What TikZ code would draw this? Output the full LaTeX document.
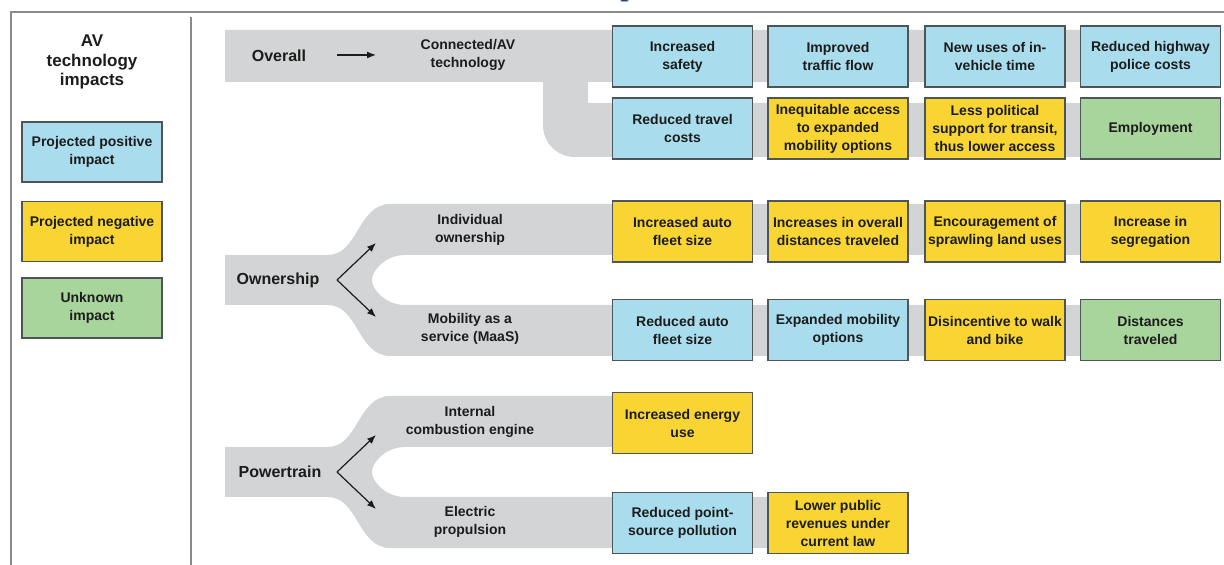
\documentclass[tikz,border=0pt]{standalone}
\usepackage{fontspec}
\setmainfont{Liberation Sans}
\newfontfamily\titleserif{Liberation Serif}
\usetikzlibrary{arrows.meta}
\definecolor{posblue}{HTML}{A9DCEC}
\definecolor{negyellow}{HTML}{F8D532}
\definecolor{unkgreen}{HTML}{A8D59C}
\definecolor{boxedge}{HTML}{4D5559}
\definecolor{bandgray}{HTML}{D3D4D5}
\definecolor{framegray}{HTML}{8A8A8A}
\definecolor{inkdark}{HTML}{1C1C1C}
\definecolor{titlenavy}{HTML}{1D3C7E}
\begin{document}
\begin{tikzpicture}[x=0.5pt,y=-0.5pt,
  impact/.style={draw=boxedge, line width=0.8pt, minimum width=70pt, minimum height=30.5pt,
    inner sep=1pt, align=center, text=inkdark, font=\fontsize{7}{9}\selectfont\bfseries},
  posbox/.style={impact, fill=posblue},
  negbox/.style={impact, fill=negyellow},
  unkbox/.style={impact, fill=unkgreen},
  band/.style={fill=bandgray, draw=none},
  cat/.style={font=\fontsize{8}{10}\selectfont\bfseries, text=inkdark},
  sub/.style={font=\fontsize{7}{9}\selectfont\bfseries, text=inkdark, align=center},
  pointer/.style={-{Latex[length=4.5pt,width=3.5pt]}, line width=0.6pt, draw=inkdark},
  frameline/.style={draw=framegray, line width=0.9pt}]
\useasboundingbox (0,0) rectangle (1224,565);

% cut-off title fragment
\node[anchor=base west, inner sep=0, text=titlenavy,
  font=\titleserif\fontsize{15}{15}\selectfont\bfseries] (ttl) at (620,-4) {p};

% frame lines
\draw[frameline] (10,12) -- (1224,12);
\draw[frameline] (11,12) -- (11,565);
\draw[frameline] (191,17) -- (191,565);

% legend
\node[align=center, text=inkdark, font=\fontsize{8.5}{9.8}\selectfont\bfseries] (legtitle) at (92,62) {AV\\technology\\impacts};
\node[posbox, minimum height=30pt] (legpos) at (92,152) {Projected positive\\impact};
\node[negbox, minimum height=30pt] (legneg) at (92,231.5) {Projected negative\\impact};
\node[unkbox, minimum height=30pt] (legunk) at (92,308) {Unknown\\impact};

% ---------- Overall bands ----------
\fill[band] (225,30) -- (1220,30) -- (1220,82) -- (588,82) -- (588,103) -- (1220,103)
  -- (1220,157) -- (575,157) .. controls (557,157) and (543,143) .. (543,125)
  -- (543,82) -- (225,82) -- cycle;

% ---------- Ownership fork (c = 280) ----------
\fill[band] (225,255) -- (328,255) .. controls (358,255) and (358,204) .. (390,204)
  -- (1220,204) -- (1220,255) -- (405,255) .. controls (386,255) and (372,270) .. (372,280)
  .. controls (372,290) and (386,305) .. (405,305) -- (1220,305) -- (1220,356)
  -- (390,356) .. controls (358,356) and (358,305) .. (328,305) -- (225,305) -- cycle;

% ---------- Powertrain fork (c = 472) ----------
\fill[band] (225,447) -- (328,447) .. controls (358,447) and (358,396) .. (390,396)
  -- (700,396) -- (700,447) -- (405,447) .. controls (386,447) and (372,462) .. (372,472)
  .. controls (372,482) and (386,497) .. (405,497) -- (850,497) -- (850,548)
  -- (390,548) .. controls (358,548) and (358,497) .. (328,497) -- (225,497) -- cycle;

% category labels
\node[cat] (overall) at (279,56) {Overall};
\node[cat] (ownership) at (278,280) {Ownership};
\node[cat] (powertrain) at (280,472) {Powertrain};

\node[sub] (cav) at (468,55) {Connected/AV\\technology};
\node[sub] (indiv) at (470,229.5) {Individual\\ownership};
\node[sub] (maas) at (470,329) {Mobility as a\\service (MaaS)};
\node[sub] (ice) at (470,421.5) {Internal\\combustion engine};
\node[sub] (elec) at (470,522) {Electric\\propulsion};

% arrows
\coordinate (ovA) at (337,55);
\coordinate (ovB) at (376,55);
\draw[pointer] (ovA) -- (ovB);
\coordinate (owF) at (337,280);
\coordinate (owU) at (376,243);
\coordinate (owD) at (376,317);
\draw[pointer] (owF) -- (owU);
\draw[pointer] (owF) -- (owD);
\coordinate (ptF) at (337,472);
\coordinate (ptU) at (376,435);
\coordinate (ptD) at (376,509);
\draw[pointer] (ptF) -- (ptU);
\draw[pointer] (ptF) -- (ptD);

% ---------- impact boxes ----------
% Overall row 1
\node[posbox] (o11) at (682.5,56.5) {Increased\\safety};
\node[posbox] (o12) at (838,56.5) {Improved\\traffic flow};
\node[posbox] (o13) at (995,56.5) {New uses of in-\\vehicle time};
\node[posbox] (o14) at (1150.5,56.5) {Reduced highway\\police costs};
% Overall row 2
\node[posbox] (o21) at (682.5,128.5) {Reduced travel\\costs};
\node[negbox] (o22) at (838,128.5) {Inequitable access\\to expanded\\mobility options};
\node[negbox] (o23) at (995,128.5) {Less political\\support for transit,\\thus lower access};
\node[unkbox] (o24) at (1150.5,128.5) {Employment};
% Ownership row 1
\node[negbox] (w11) at (682.5,231.5) {Increased auto\\fleet size};
\node[negbox] (w12) at (838,231.5) {Increases in overall\\distances traveled};
\node[negbox] (w13) at (995,231.5) {Encouragement of\\sprawling land uses};
\node[negbox] (w14) at (1150.5,231.5) {Increase in\\segregation};
% Ownership row 2
\node[posbox] (w21) at (682.5,330) {Reduced auto\\fleet size};
\node[posbox] (w22) at (838,330) {Expanded mobility\\options};
\node[negbox] (w23) at (995,330) {Disincentive to walk\\and bike};
\node[unkbox] (w24) at (1150.5,330) {Distances\\traveled};
% Powertrain
\node[negbox] (p11) at (682.5,423) {Increased energy\\use};
\node[posbox] (p21) at (682.5,523) {Reduced point-\\source pollution};
\node[negbox] (p22) at (838,523) {Lower public\\revenues under\\current law};
\end{tikzpicture}
\end{document}
